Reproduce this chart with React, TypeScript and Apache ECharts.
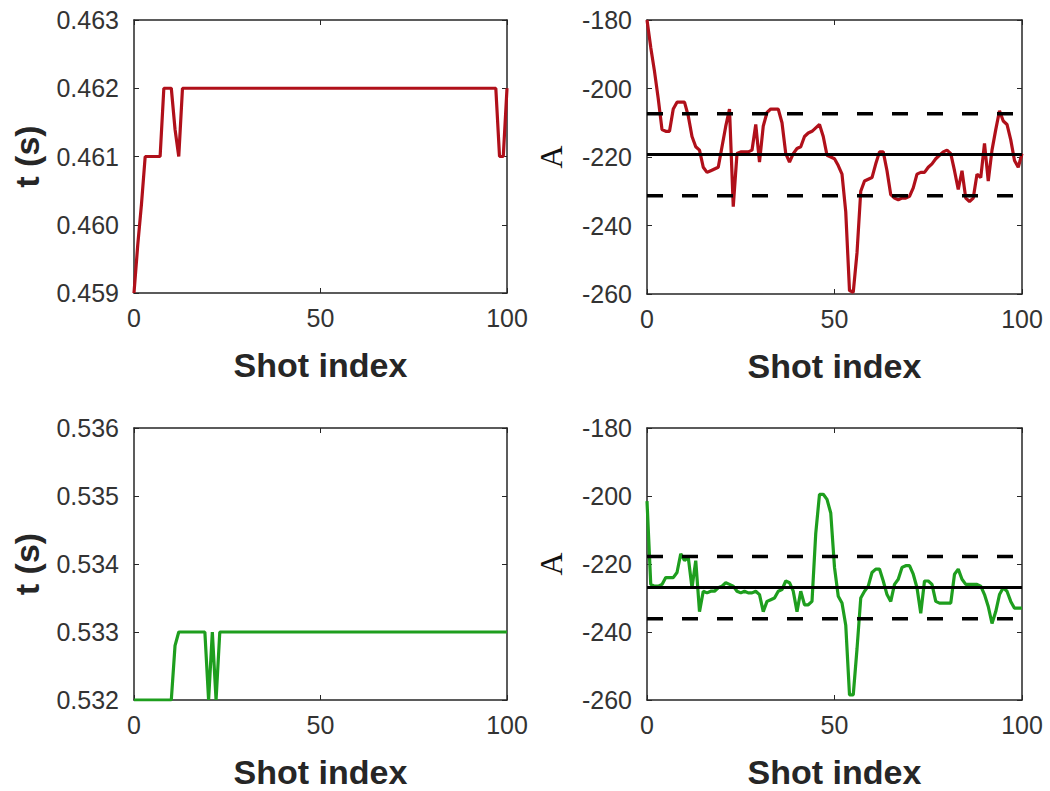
import React, { useEffect, useRef } from "react";
import * as echarts from "echarts";

// Shot indices 0..100
const shotIndex: number[] = Array.from({ length: 101 }, (_, i) => i);

// Top-left: arrival time t (s), red
const tShotRed: number[] = [
  0.459, 0.4597, 0.4603, 0.461, 0.461, 0.461, 0.461, 0.461, 0.462, 0.462,
  0.462, 0.4614, 0.461, 0.462, 0.462, 0.462, 0.462, 0.462, 0.462, 0.462,
  0.462, 0.462, 0.462, 0.462, 0.462, 0.462, 0.462, 0.462, 0.462, 0.462,
  0.462, 0.462, 0.462, 0.462, 0.462, 0.462, 0.462, 0.462, 0.462, 0.462,
  0.462, 0.462, 0.462, 0.462, 0.462, 0.462, 0.462, 0.462, 0.462, 0.462,
  0.462, 0.462, 0.462, 0.462, 0.462, 0.462, 0.462, 0.462, 0.462, 0.462,
  0.462, 0.462, 0.462, 0.462, 0.462, 0.462, 0.462, 0.462, 0.462, 0.462,
  0.462, 0.462, 0.462, 0.462, 0.462, 0.462, 0.462, 0.462, 0.462, 0.462,
  0.462, 0.462, 0.462, 0.462, 0.462, 0.462, 0.462, 0.462, 0.462, 0.462,
  0.462, 0.462, 0.462, 0.462, 0.462, 0.462, 0.462, 0.462, 0.461, 0.461,
  0.462,
];

// Bottom-left: arrival time t (s), green
const tShotGreen: number[] = [
  0.532, 0.532, 0.532, 0.532, 0.532, 0.532, 0.532, 0.532, 0.532, 0.532,
  0.532, 0.5328, 0.533, 0.533, 0.533, 0.533, 0.533, 0.533, 0.533, 0.533,
  0.532, 0.533, 0.532, 0.533, 0.533, 0.533, 0.533, 0.533, 0.533, 0.533,
  0.533, 0.533, 0.533, 0.533, 0.533, 0.533, 0.533, 0.533, 0.533, 0.533,
  0.533, 0.533, 0.533, 0.533, 0.533, 0.533, 0.533, 0.533, 0.533, 0.533,
  0.533, 0.533, 0.533, 0.533, 0.533, 0.533, 0.533, 0.533, 0.533, 0.533,
  0.533, 0.533, 0.533, 0.533, 0.533, 0.533, 0.533, 0.533, 0.533, 0.533,
  0.533, 0.533, 0.533, 0.533, 0.533, 0.533, 0.533, 0.533, 0.533, 0.533,
  0.533, 0.533, 0.533, 0.533, 0.533, 0.533, 0.533, 0.533, 0.533, 0.533,
  0.533, 0.533, 0.533, 0.533, 0.533, 0.533, 0.533, 0.533, 0.533, 0.533,
  0.533,
];

// Top-right: amplitude A, red
const ampRed: number[] = [
  -180, -188, -195, -203, -212, -212.5, -212.5, -206, -204, -204,
  -204, -208, -214, -217, -218, -223, -224.5, -224, -223.5, -223,
  -217, -211, -206, -234.5, -219, -218.5, -218.5, -218.5, -218, -210.5,
  -221.5, -211, -207, -206, -206, -206, -210, -219, -221.5, -219,
  -217.5, -217, -214, -213, -212.5, -211.5, -210.5, -214, -219.5, -220,
  -220.5, -222.5, -225, -236, -259, -259.5, -248, -230, -227, -226.5,
  -226, -222, -218.5, -218.5, -224, -231, -232, -232.5, -232, -232,
  -231.5, -229, -225, -224.5, -224.5, -223, -222, -220.5, -219.5, -218.5,
  -218, -219, -224, -229.5, -224, -232, -233, -232, -225, -226,
  -216, -227, -218, -212, -206.5, -209.5, -210.5, -215, -221, -223,
  -219,
];

// Bottom-right: amplitude A, green
const ampGreen: number[] = [
  -201.5, -226, -226.5, -226.5, -226, -224, -224, -224, -222.5, -217,
  -219, -218, -227, -219, -234, -228, -228.5, -228, -228, -227,
  -226.5, -225.5, -226, -226.5, -228, -228.5, -228, -228.5, -228.5, -228,
  -229, -234, -231, -230.5, -230, -228, -227.5, -225, -225.5, -228,
  -234, -228, -232, -232, -231, -211, -199.5, -199.5, -201, -205,
  -221, -229.5, -231.5, -238, -258.5, -258.5, -245, -230, -228, -226.5,
  -222.5, -221.5, -221.5, -225, -229, -231, -226, -224.5, -221, -220.5,
  -220.5, -223, -227, -234.5, -225, -225, -226, -231, -231.5, -231.5,
  -231.5, -231.5, -223, -221.5, -224.5, -226, -226, -226, -226, -226.5,
  -229, -232.5, -237.5, -234, -229, -227, -228, -231, -233, -233,
  -233,
];

// Reference lines (mean and ±1 std) for the amplitude panels [red, green]
const ampMean: number[] = [-219.3, -226.9];
const ampUpper: number[] = [-207.4, -217.8];
const ampLower: number[] = [-231.3, -236.1];

// Axis ranges / ticks
const xRange = { min: 0, max: 100, interval: 50 };
const tRedRange = { min: 0.459, max: 0.463, interval: 0.001 };
const tGreenRange = { min: 0.532, max: 0.536, interval: 0.001 };
const ampRange = { min: -260, max: -180, interval: 20 };

const AXIS_COLOR = "#262626";
const LABEL_COLOR = "#333333";
const RED = "#b0101a";
const GREEN = "#1e9e1e";
const SANS = "'Liberation Sans', Arial, Helvetica, sans-serif";
const SERIF = "'Liberation Serif', 'Times New Roman', serif";

export default function App() {
  const ref = useRef<HTMLDivElement>(null);

  useEffect(() => {
    if (!ref.current) return;
    const chart = echarts.init(ref.current, undefined, { renderer: "svg" });

    const grids = [
      { left: 134, top: 20, width: 373, height: 273 },
      { left: 647, top: 20, width: 375, height: 274 },
      { left: 134, top: 428, width: 373, height: 272 },
      { left: 647, top: 428, width: 375, height: 272 },
    ];

    const panels = [
      { y: tShotRed, range: tRedRange, color: RED, name: "t (s)", serif: false, fmt: (v: number) => v.toFixed(3), ref: -1 },
      { y: ampRed, range: ampRange, color: RED, name: "A", serif: true, fmt: (v: number) => String(Math.round(v)), ref: 0 },
      { y: tShotGreen, range: tGreenRange, color: GREEN, name: "t (s)", serif: false, fmt: (v: number) => v.toFixed(3), ref: -1 },
      { y: ampGreen, range: ampRange, color: GREEN, name: "A", serif: true, fmt: (v: number) => String(Math.round(v)), ref: 1 },
    ];

    const axisLine = { show: true, onZero: false, lineStyle: { color: AXIS_COLOR, width: 1.5 } };
    const tick = { show: true, inside: true, length: 5, lineStyle: { color: AXIS_COLOR, width: 1 } };

    const xAxes: any[] = [];
    const yAxes: any[] = [];
    const series: any[] = [];

    panels.forEach((p, i) => {
      xAxes.push({
        type: "value",
        gridIndex: i,
        position: "bottom",
        ...xRange,
        axisLine,
        axisTick: tick,
        splitLine: { show: false },
        axisLabel: { show: true, color: LABEL_COLOR, fontSize: 25, fontFamily: SANS, margin: 12 },
        name: "Shot index",
        nameLocation: "middle",
        nameGap: 55,
        nameTextStyle: { color: AXIS_COLOR, fontSize: 34, fontWeight: "bold", fontFamily: SANS },
      });
      xAxes.push({
        type: "value",
        gridIndex: i,
        position: "top",
        ...xRange,
        axisLine,
        axisTick: tick,
        splitLine: { show: false },
        axisLabel: { show: false },
      });
      yAxes.push({
        type: "value",
        gridIndex: i,
        position: "left",
        ...p.range,
        axisLine,
        axisTick: tick,
        splitLine: { show: false },
        axisLabel: {
          show: true,
          color: LABEL_COLOR,
          fontSize: 25,
          fontFamily: SANS,
          margin: 15,
          formatter: p.fmt,
        },
        name: p.name,
        nameLocation: "middle",
        nameGap: p.serif ? 80 : 90,
        nameTextStyle: p.serif
          ? { color: "#111", fontSize: 32, fontWeight: "normal", fontFamily: SERIF }
          : { color: AXIS_COLOR, fontSize: 34, fontWeight: "bold", fontFamily: SANS },
      });
      yAxes.push({
        type: "value",
        gridIndex: i,
        position: "right",
        ...p.range,
        axisLine,
        axisTick: tick,
        splitLine: { show: false },
        axisLabel: { show: false },
      });

      series.push({
        type: "line",
        xAxisIndex: 2 * i,
        yAxisIndex: 2 * i,
        data: shotIndex.map((x, k) => [x, p.y[k]]),
        showSymbol: false,
        symbol: "none",
        lineStyle: { color: p.color, width: 3.2 },
        z: 2,
      });

      if (p.ref >= 0) {
        const r = p.ref;
        const mk = (val: number, dashed: boolean) => ({
          type: "line",
          xAxisIndex: 2 * i,
          yAxisIndex: 2 * i,
          data: [
            [xRange.min, val],
            [xRange.max, val],
          ],
          showSymbol: false,
          symbol: "none",
          lineStyle: { color: "#000", width: dashed ? 3.5 : 3, type: dashed ? [16, 19] : "solid" },
          z: 3,
        });
        series.push(mk(ampMean[r], false));
        series.push(mk(ampUpper[r], true));
        series.push(mk(ampLower[r], true));
      }
    });

    chart.setOption({
      animation: false,
      backgroundColor: "#ffffff",
      grid: grids.map((g) => ({ ...g, containLabel: false, show: false })),
      xAxis: xAxes,
      yAxis: yAxes,
      series,
    });

    return () => chart.dispose();
  }, []);

  return (
    <div
      ref={ref}
      style={{ position: "fixed", left: 0, top: 0, width: 1050, height: 791, background: "#fff" }}
    />
  );
}
